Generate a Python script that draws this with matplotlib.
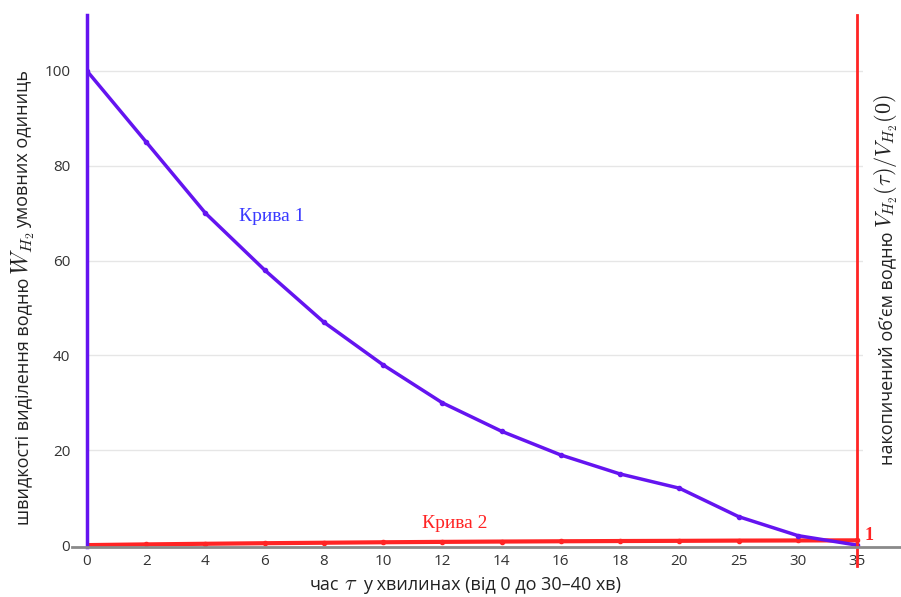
import matplotlib
matplotlib.use("Agg")
import matplotlib.pyplot as plt
from matplotlib.lines import Line2D
import matplotlib.transforms as mtransforms

plt.rcParams['font.family'] = ['Open Sans', 'DejaVu Sans']
plt.rcParams['mathtext.fontset'] = 'cm'

time_labels = ["0", "2", "4", "6", "8", "10", "12", "14", "16", "18", "20", "25", "30", "35"]
curve1_rate = [100, 85, 70, 58, 47, 38, 30, 24, 19, 15, 12, 6, 2, 0]
curve2_volume = [0.0, 0.15, 0.28, 0.40, 0.50, 0.60, 0.68, 0.75, 0.81, 0.86, 0.90, 0.95, 0.98, 1.0]
y_ticks = [0, 20, 40, 60, 80, 100]

purple = "#6414f0"
red = "#ff2424"
W, H = 901, 597

fig = plt.figure(figsize=(9.01, 5.97), dpi=100)
ax = fig.add_axes([87/W, 1-547/H, (863-87)/W, (547-15)/H])

x = list(range(len(time_labels)))
ax.set_xlim(0, 13.1)
ax.set_ylim(-0.4, 111.8)

for yt in y_ticks[1:]:
    ax.axhline(yt, color="#e6e6e6", lw=1, zorder=0)

ax.plot(x, curve1_rate, color=purple, lw=2.5, marker="o", ms=3, zorder=3)
ax.plot(x, curve2_volume, color=red, lw=3, marker="o", ms=3, zorder=2)

for s in ["top", "right"]:
    ax.spines[s].set_visible(False)
ax.spines["left"].set_color(purple)
ax.spines["left"].set_linewidth(2.5)
ax.spines["bottom"].set_visible(False)

fig.add_artist(Line2D([72/W, 1.0], [1-547/H, 1-547/H], color="#8a8a8a", lw=2, transform=fig.transFigure))

trans = mtransforms.blended_transform_factory(ax.transData, ax.transAxes)
ax.add_line(Line2D([13, 13], [-0.035, 1.0], color=red, lw=2, transform=trans, clip_on=False, zorder=4))

ax.set_xticks(x)
ax.set_xticklabels(time_labels)
ax.set_yticks(y_ticks)
ax.tick_params(axis="x", length=0, pad=5, labelsize=11, labelcolor="#333333")
ax.tick_params(axis="y", length=0, pad=12, labelsize=11, labelcolor="#333333")

renderer = fig.canvas.get_renderer()

def horizontal_label(x_left_px, y_base_px, pieces):
    xcur = x_left_px
    for txt, fs, gap in pieces:
        t = fig.text(xcur / W, 1 - y_base_px / H, txt, ha="left", va="baseline",
                     fontsize=fs, color="#222222")
        bb = t.get_window_extent(renderer)
        xcur += bb.width + gap

def vertical_label(x_base_px, y_bottom_px, pieces):
    ycur = H - y_bottom_px
    for txt, fs in pieces:
        t = fig.text(x_base_px / W, ycur / H, txt, rotation=90, rotation_mode="anchor",
                     ha="left", va="baseline", fontsize=fs, color="#222222")
        bb = t.get_window_extent(renderer)
        ycur += bb.height + 3

horizontal_label(310, 590, [("час", 13, 5), (r"$\tau$", 16, 5), ("у хвилинах (від 0 до 30–40 хв)", 13, 0)])

vertical_label(28, 525, [("швидкості виділення водню", 13),
                         (r"$W_{H_2}$", 17),
                         ("умовних одиниць", 13)])
vertical_label(892, 465, [("накопичений обʼєм водню", 13),
                          (r"$V_{H_2}(\tau)/V_{H_2}(0)$", 16)])

ax.text(2.56, 69.2, "Крива 1", color="#3a3aff", fontsize=14, family="Liberation Serif", va="center")
ax.text(6.2, 4.6, "Крива 2", color=red, fontsize=14, family="Liberation Serif", ha="center", va="center")
ax.text(13.12, 2.0, "1", color=red, fontsize=13, family="Liberation Serif", fontweight="bold", va="center")

fig.savefig("out.png", dpi=100)
